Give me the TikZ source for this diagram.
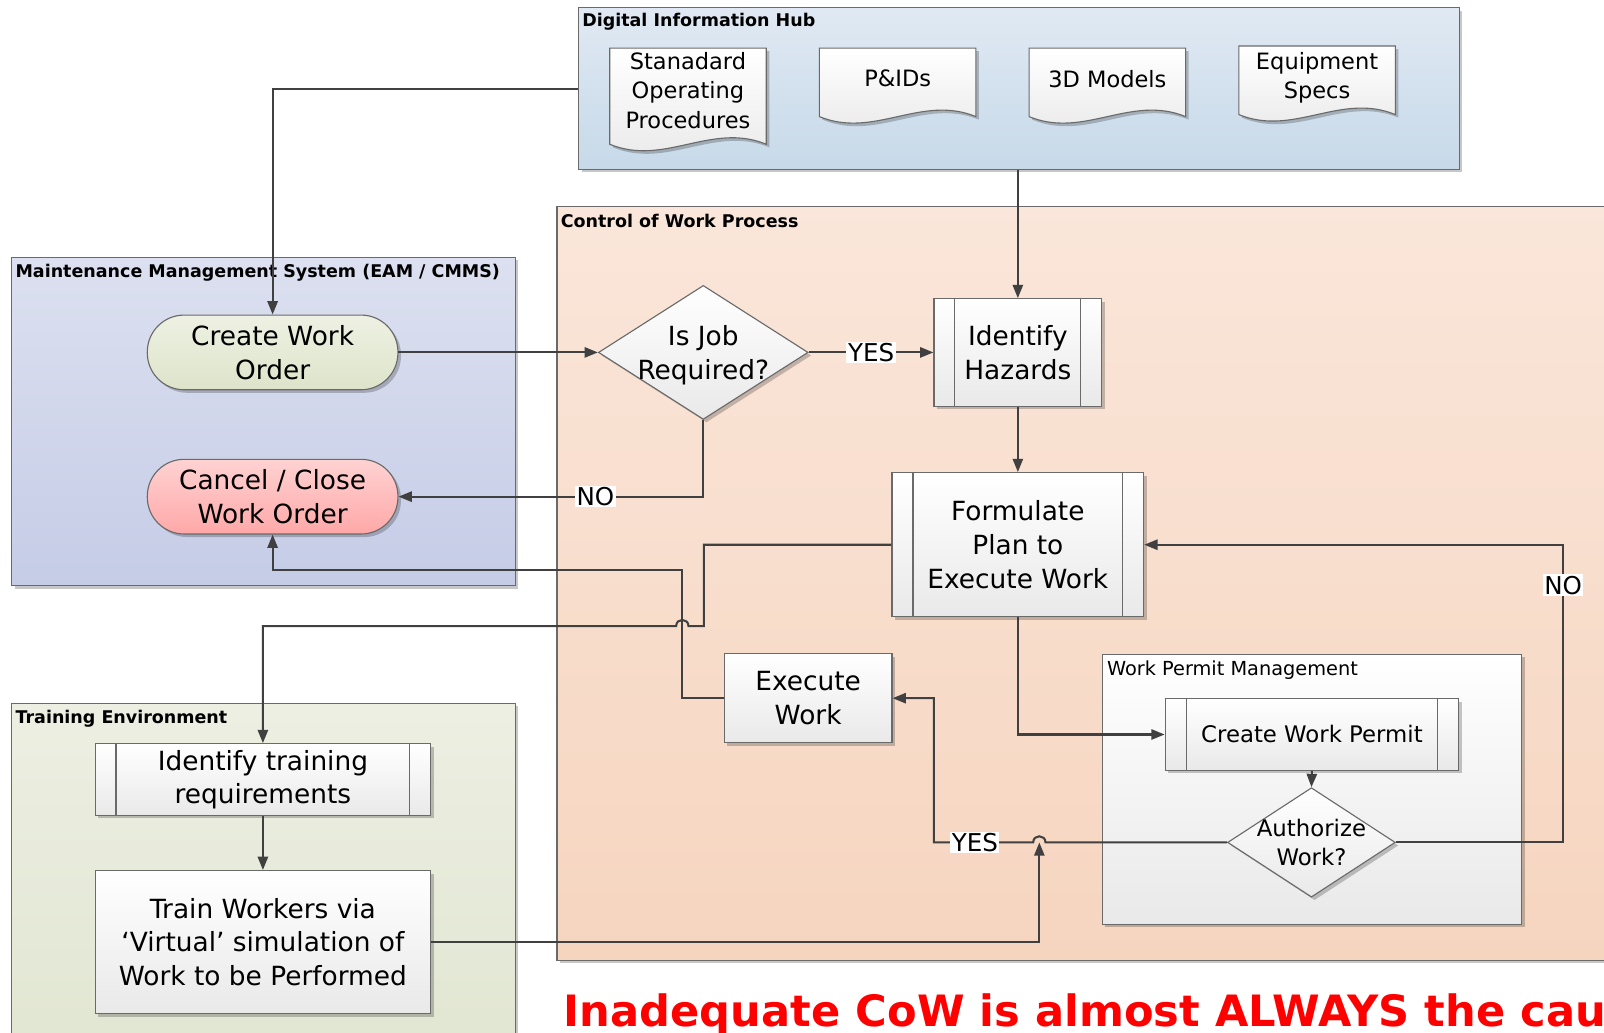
\documentclass[tikz,border=0pt]{standalone}
\usepackage{fontspec}
\setmainfont{DejaVu Sans}
\usetikzlibrary{arrows.meta,shapes.geometric,shadows}

\definecolor{linec}{HTML}{404040}
\definecolor{edgec}{HTML}{6A6A6A}
\definecolor{hubtop}{HTML}{E0E9F3}
\definecolor{hubbot}{HTML}{C7D9E9}
\definecolor{ctltop}{HTML}{FAE6DA}
\definecolor{ctlbot}{HTML}{F6D5BF}
\definecolor{mmstop}{HTML}{DCE0F0}
\definecolor{mmsbot}{HTML}{C5CCE6}
\definecolor{trntop}{HTML}{EDEFE2}
\definecolor{trnbot}{HTML}{E1E6D2}
\definecolor{proctop}{HTML}{FFFFFF}
\definecolor{procbot}{HTML}{E9E9E9}
\definecolor{cwotop}{HTML}{EEF1E3}
\definecolor{cwobot}{HTML}{DDE4CA}
\definecolor{cantop}{HTML}{FFD2D2}
\definecolor{canbot}{HTML}{FFA8A8}
\definecolor{warnred}{HTML}{FF0000}

\newcommand\fs[2]{\fontsize{#1}{#2}\selectfont}

% document symbol: straight top and sides, wavy bottom edge
\newcommand\docshape[4]{%
  \path[docsty] (#1,#2) -- (#3,#2) -- (#3,#4)
    .. controls ({#1+0.65*(#3-#1)},{#4-22}) and ({#1+0.35*(#3-#1)},{#4+22}) .. (#1,#4) -- cycle;}

% inner bars of a predefined-process box
\newcommand\sublines[1]{%
  \draw[edgeln] ([xshift=21pt]#1.north west) -- ([xshift=21pt]#1.south west)
                ([xshift=-21pt]#1.north east) -- ([xshift=-21pt]#1.south east);}

\tikzset{
  shad/.style={drop shadow={shadow xshift=3pt,shadow yshift=-3pt,fill=black,opacity=0.22}},
  cont/.style={draw=edgec,line width=1.2pt,inner sep=0pt,anchor=north west,shad},
  ctitle/.style={anchor=base west,inner sep=0pt,font=\fs{17.1}{20}\bfseries},
  edgeln/.style={draw=edgec,line width=1.1pt},
  docsty/.style={draw=edgec,line width=1.1pt,top color=proctop,bottom color=procbot,shad},
  doctext/.style={align=center,inner sep=0pt,font=\fs{22}{28.5}},
  proc/.style={draw=edgec,line width=1.1pt,top color=proctop,bottom color=procbot,
               inner sep=0pt,shad},
  txt/.style={align=center,inner sep=0pt,font=\fs{25.8}{33}},
  stadium/.style={draw=edgec,line width=1.1pt,rounded corners=36pt,inner sep=0pt,
                  minimum width=245pt,minimum height=73pt,shad,align=center,font=\fs{25.8}{33}},
  decision/.style={diamond,draw=edgec,line width=1.1pt,top color=proctop,bottom color=procbot,
                   inner sep=0pt,shad},
  conn/.style={draw=linec,line width=2pt,-{Triangle[length=13pt,width=10pt]}},
  lbl/.style={fill=white,inner sep=1.5pt,font=\fs{24}{24}},
}

\begin{document}
\begin{tikzpicture}[x=1pt,y=-1pt]
\useasboundingbox (0,0) rectangle (1568,1009);
\fill[white] (0,0) rectangle (1568,1009);

% ---------- containers ----------
\node[cont,top color=ctltop,bottom color=ctlbot,minimum width=1040pt,minimum height=737pt] (ctl) at (544,201) {};
\node[ctitle] (ctlt) at (548,222) {Control of Work Process};

\node[cont,top color=hubtop,bottom color=hubbot,minimum width=861pt,minimum height=158pt] (hub) at (565,7) {};
\node[ctitle] (hubt) at (569,26) {Digital Information Hub};

\node[cont,top color=mmstop,bottom color=mmsbot,minimum width=492pt,minimum height=321pt] (mms) at (11,251) {};
\node[ctitle] (mmst) at (15,271) {Maintenance Management System (EAM / CMMS)};

\node[cont,top color=trntop,bottom color=trnbot,minimum width=492pt,minimum height=340pt] (trn) at (11,687) {};
\node[ctitle] (trnt) at (15,707) {Training Environment};

\node[cont,top color=proctop,bottom color=procbot,minimum width=410pt,minimum height=264pt] (wpm) at (1077,639) {};
\node[anchor=base west,inner sep=0pt,font=\fs{18.9}{22}] (wpmt) at (1082,660) {Work Permit Management};

% ---------- information sources ----------
\docshape{596}{47}{749}{141}
\node[doctext] (sop) at (672.5,88.5) {Stanadard\\Operating\\Procedures};
\docshape{801}{47}{954}{114}
\node[doctext] (pid) at (877.5,77) {P\&IDs};
\docshape{1006}{47}{1159}{114}
\node[doctext] (cad) at (1082.5,77) {3D Models};
\docshape{1211}{45}{1364}{112}
\node[doctext] (spec) at (1287.5,76) {Equipment\\Specs};

% ---------- work order ----------
\node[stadium,top color=cwotop,bottom color=cwobot] (cwo) at (266.5,344.5) {Create Work\\Order};
\node[stadium,top color=cantop,bottom color=canbot] (cancel) at (266.5,485.5) {Cancel / Close\\Work Order};

% ---------- control of work ----------
\node[decision,minimum width=205pt,minimum height=131pt] (job) at (687.5,344.5) {};
\node[txt] (jobt) at (687.5,347) {Is Job\\Required?};

\node[proc,minimum width=164pt,minimum height=105pt] (hz) at (995,344.5) {};
\sublines{hz}
\node[txt] (hzt) at (995,344.5) {Identify\\Hazards};

\node[proc,minimum width=246pt,minimum height=141pt] (plan) at (995,532.5) {};
\sublines{plan}
\node[txt] (plant) at (995,532.5) {Formulate\\Plan to\\Execute Work};

\node[proc,minimum width=164pt,minimum height=87pt,txt] (exec) at (790,682.5) {Execute\\Work};

\node[proc,minimum width=287pt,minimum height=70pt] (cwp) at (1282.5,718) {};
\sublines{cwp}
\node[txt,font=\fs{22.3}{28}] (cwpt) at (1282.5,718) {Create Work Permit};

\node[decision,minimum width=164pt,minimum height=107pt] (auth) at (1282,823.5) {};
\node[txt,font=\fs{22.3}{28}] (autht) at (1282,823.5) {Authorize\\Work?};

% ---------- training ----------
\node[proc,minimum width=328pt,minimum height=70pt] (itr) at (257,762) {};
\sublines{itr}
\node[txt,font=\fs{25.8}{32}] (itrt) at (257,762) {Identify training\\requirements};

\node[proc,minimum width=328pt,minimum height=140pt,txt] (train) at (257,921) {Train Workers via\\‘Virtual’ simulation of\\Work to be Performed};

% ---------- connectors ----------
\draw[conn] (hub.west) -| (cwo.north);
\draw[conn] (hz.north |- hub.south) -- (hz.north);
\draw[conn] (cwo.east) -- (job.west);
\draw[conn] (job.east) -- node[lbl] (yes1) {YES} (hz.west);
\draw[conn] (job.south) |- node[lbl,pos=0.677] (no1) {NO} (cancel.east);
\draw[conn] (hz.south) -- (plan.north);
\draw[conn] (exec.west) -| (667,557) -| (cancel.south);
\draw[conn] (plan.west) -| (688,612) -- (673,612)
  .. controls (673,604) and (661,604) .. (661,612) -| (itr.north);
\draw[conn] (plan.south) |- (cwp.west);
\draw[conn] (cwp.south) -- (auth.north);
\draw[conn] (auth.west) -- (1022,823.5)
  .. controls (1022,815.5) and (1010,815.5) .. (1010,823.5)
  -- node[lbl,pos=0.588] (yes2) {YES} (913,823.5) |- (exec.east);
\draw[conn] (auth.east) -- (1528,823.5) -- node[lbl,pos=0.864] (no2) {NO} (1528,532.5) -- (plan.east);
\coordinate (hop) at (1016,823.5);
\draw[conn] (train.east) -| (hop);
\draw[conn] (itr.south) -- (train.north);

% ---------- message ----------
\node[anchor=base west,inner sep=0pt,text=warnred,font=\fs{42.2}{43}\bfseries] (warn) at (551,1003)
  {Inadequate CoW is almost ALWAYS the cau};
\end{tikzpicture}
\end{document}
